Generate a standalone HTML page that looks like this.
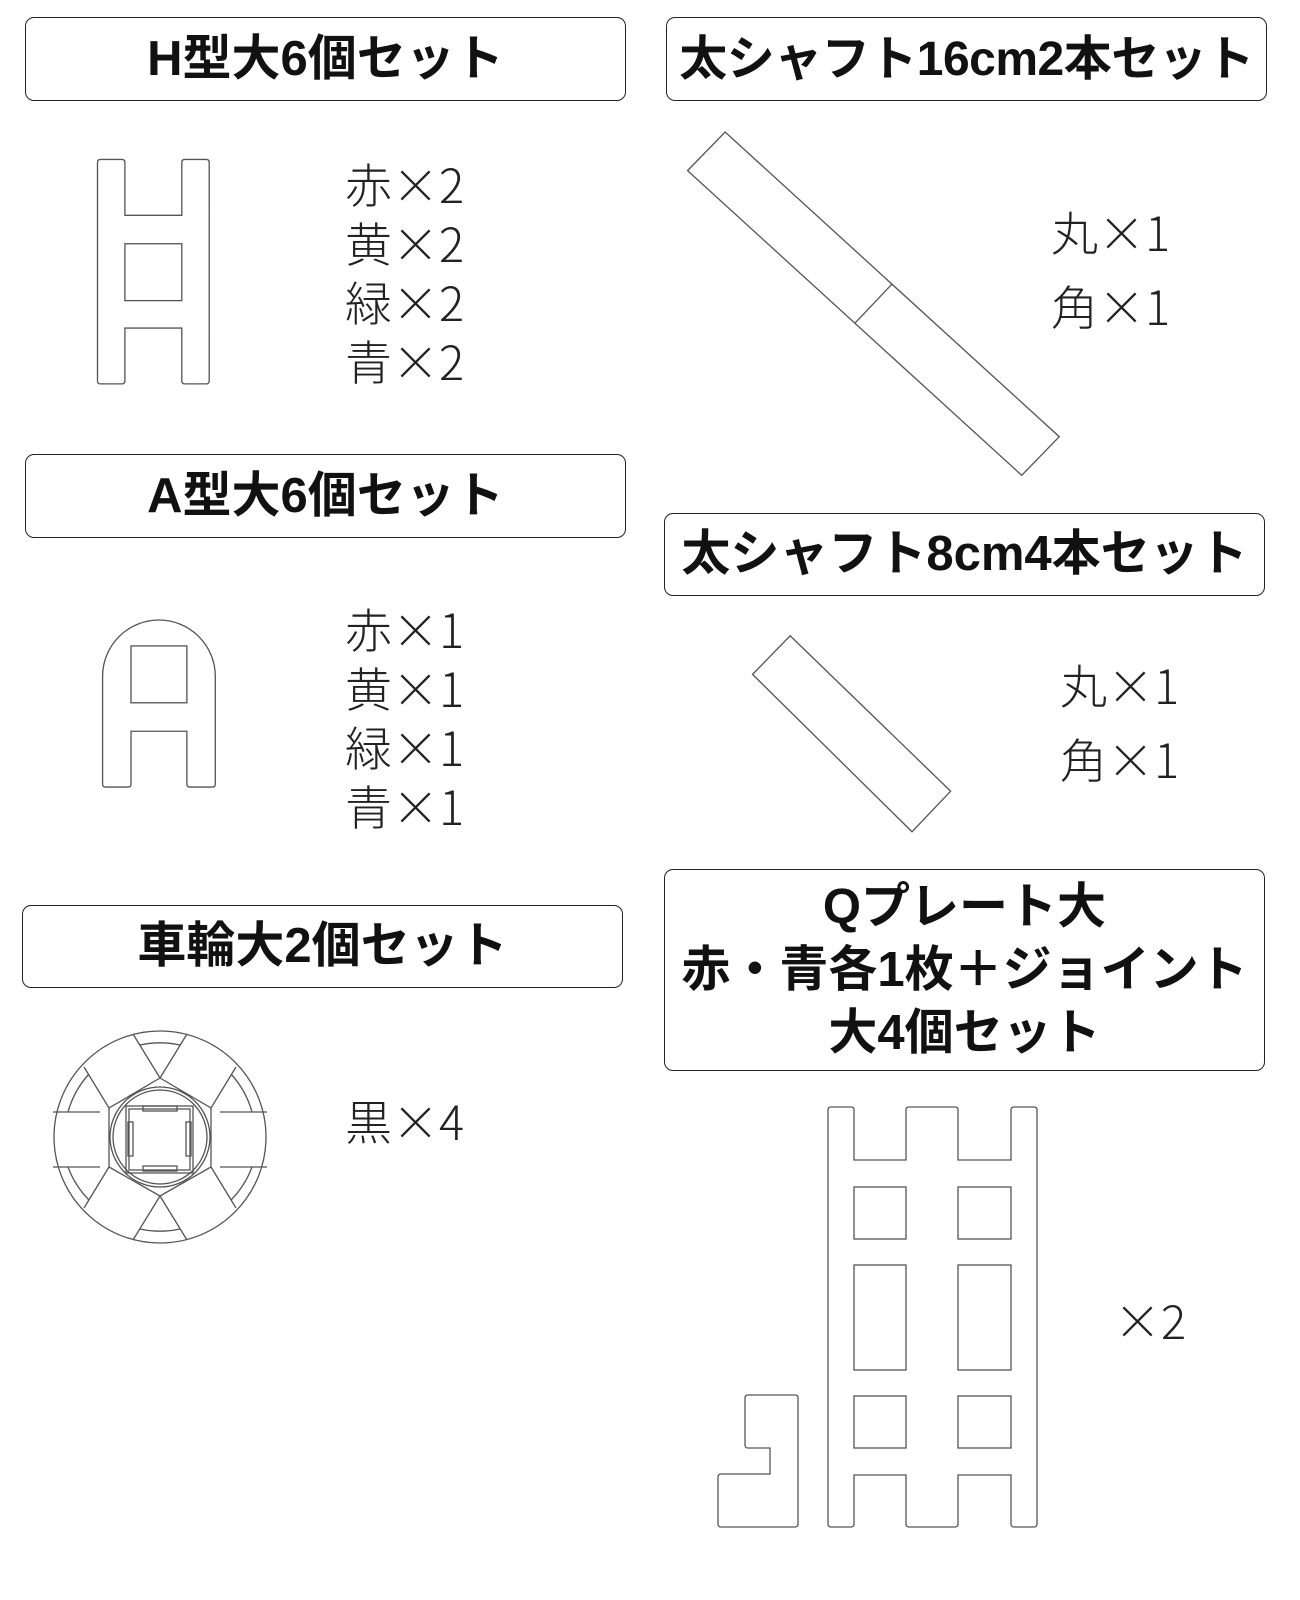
<!DOCTYPE html>
<html><head><meta charset="utf-8"><style>
body{margin:0;width:1300px;height:1600px;background:#fff;position:relative;overflow:hidden;font-family:"Liberation Sans","Noto Sans CJK JP",sans-serif;}
.b{position:absolute;border:1.5px solid #222;border-radius:9px;box-sizing:border-box;display:flex;align-items:center;justify-content:center;text-align:center;font-weight:bold;font-size:49px;color:#111;line-height:63px;white-space:nowrap;}
.t{position:absolute;font-family:"Noto Sans CJK JP",sans-serif;font-size:47px;line-height:59px;color:#222;font-weight:300;white-space:nowrap;}
svg{position:absolute;left:0;top:0;}
</style></head><body>
<div class="b" style="left:25px;top:17px;width:601px;height:84px;">H型大6個セット</div>
<div class="b" style="left:666px;top:17px;width:601px;height:84px;font-size:48px;letter-spacing:-0.5px;">太シャフト16cm2本セット</div>
<div class="b" style="left:25px;top:454px;width:601px;height:84px;">A型大6個セット</div>
<div class="b" style="left:664px;top:513px;width:601px;height:83px;">太シャフト8cm4本セット</div>
<div class="b" style="left:22px;top:905px;width:601px;height:83px;">車輪大2個セット</div>
<div class="b" style="left:664px;top:869px;width:601px;height:202px;">Qプレート大<br>赤・青各1枚＋ジョイント<br>大4個セット</div>

<div class="t" style="left:345px;top:153px;">赤×2<br>黄×2<br>緑×2<br>青×2</div>
<div class="t" style="left:345px;top:598px;">赤×1<br>黄×1<br>緑×1<br>青×1</div>
<div class="t" style="left:1051px;top:194px;line-height:74px;">丸×1<br>角×1</div>
<div class="t" style="left:1060px;top:647px;line-height:74px;">丸×1<br>角×1</div>
<div class="t" style="left:345px;top:1090px;">黒×4</div>
<div class="t" style="left:1114px;top:1289px;">×2</div>

<svg width="1300" height="1600" fill="none" stroke="#555" stroke-width="1.3">
<g transform="scale(1.0156)">
<path d="M96,160 Q96,157 99,157 H120 Q123,157 123,160 V212 H179 V160 Q179,157 182,157 H203 Q206,157 206,160 V375 Q206,378 203,378 H182 Q179,378 179,375 V323 H123 V375 Q123,378 120,378 H99 Q96,378 96,375 Z"/>
<rect x="123" y="240" width="56" height="56"/>
<path d="M101,666 A55.5,55.5 0 0 1 212,666 V772 Q212,775 209,775 H187 Q184,775 184,772 V720 H129 V772 Q129,775 126,775 H104 Q101,775 101,772 Z"/>
<rect x="129" y="636" width="55" height="56"/>
<polygon points="677,168 714,130 1043,430 1006,468"/>
<line x1="842" y1="318" x2="878" y2="280"/>
<polygon points="741,664 778,626 936,779 898,819"/>
</g>
<circle cx="160" cy="1137" r="106"/>
<path d="M100,1112 H53 M100,1167 H53 M220,1112 H267 M220,1167 H267"/>
<polygon points="160,1078 211,1108 211,1167 160,1196 109,1167 109,1108"/>
<circle cx="160" cy="1137" r="50"/>
<circle cx="160" cy="1137" r="47"/>
<path d="M160,1078 L133,1034 M160,1078 L187,1034 M160,1196 L133,1240 M160,1196 L187,1240 M109,1108 L84,1067 M211,1108 L236,1067 M109,1167 L84,1208 M211,1167 L236,1208"/>
<path d="M140,1045 A93,93 0 0 1 180,1045 M140,1229 A93,93 0 0 0 180,1229 M89,1074 A93,93 0 0 0 68,1112 M231,1074 A93,93 0 0 1 252,1112 M89,1200 A93,93 0 0 1 68,1167 M231,1200 A93,93 0 0 0 252,1167"/>
<rect x="126" y="1106" width="67" height="67"/>
<rect x="129" y="1109" width="61" height="61"/>
<rect x="143" y="1106" width="34" height="5"/><rect x="143" y="1166" width="34" height="5"/>
<rect x="128" y="1122" width="5" height="34"/><rect x="186" y="1122" width="5" height="34"/>
<path d="M828,1110 Q828,1107 831,1107 H851 Q854,1107 854,1110 V1160 H906 V1110 Q906,1107 909,1107 H955 Q958,1107 958,1110 V1160 H1011 V1110 Q1011,1107 1014,1107 H1034 Q1037,1107 1037,1110 V1524 Q1037,1527 1034,1527 H1014 Q1011,1527 1011,1524 V1475 H958 V1524 Q958,1527 955,1527 H909 Q906,1527 906,1524 V1475 H854 V1524 Q854,1527 851,1527 H831 Q828,1527 828,1524 Z"/>
<rect x="854" y="1187" width="52" height="52"/><rect x="958" y="1187" width="53" height="52"/>
<rect x="854" y="1265" width="52" height="105"/><rect x="958" y="1265" width="53" height="105"/>
<rect x="854" y="1396" width="52" height="52"/><rect x="958" y="1396" width="53" height="52"/>
<path d="M748,1395 H795 Q798,1395 798,1398 V1524 Q798,1527 795,1527 H721 Q718,1527 718,1524 V1477 Q718,1474 721,1474 H770 V1448 H748 Q745,1448 745,1445 V1398 Q745,1395 748,1395 Z"/>
</svg>
</body></html>
